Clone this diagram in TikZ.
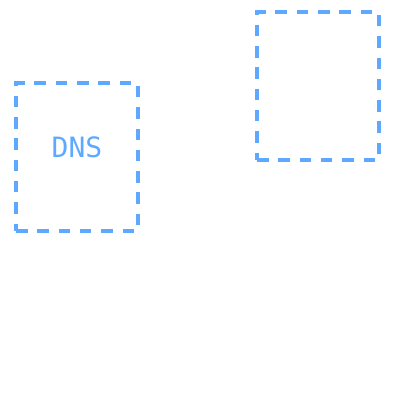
\documentclass[tikz,border=0pt]{standalone}
\usepackage{fontspec}
\setmonofont{DejaVu Sans Mono}
\usepackage{tikz}
\usetikzlibrary{positioning}
\usepackage{xcolor}
\definecolor{zoneblue}{RGB}{94,169,255}
\tikzstyle{zone} = [rectangle, minimum width=122pt, minimum height=148pt, inner sep=0pt, draw=zoneblue, line width=3.1pt, dash pattern=on 11.5pt off 9.8pt]
\tikzstyle{zonelabel} = [font=\ttfamily\fontsize{28}{33}\selectfont, text=zoneblue, inner sep=0pt]

\begin{document}
\begin{tikzpicture}[x=1pt, y=-1pt]
\useasboundingbox (0,0) rectangle (400,400);
% two dashed zones
\node (dnszone) [zone] at (77,157) {};
\node (otherzone) [zone] at (318,86) {};

% zone label
\node (dnslabel) [zonelabel] at (77,147) {DNS};
\end{tikzpicture}
\end{document}
